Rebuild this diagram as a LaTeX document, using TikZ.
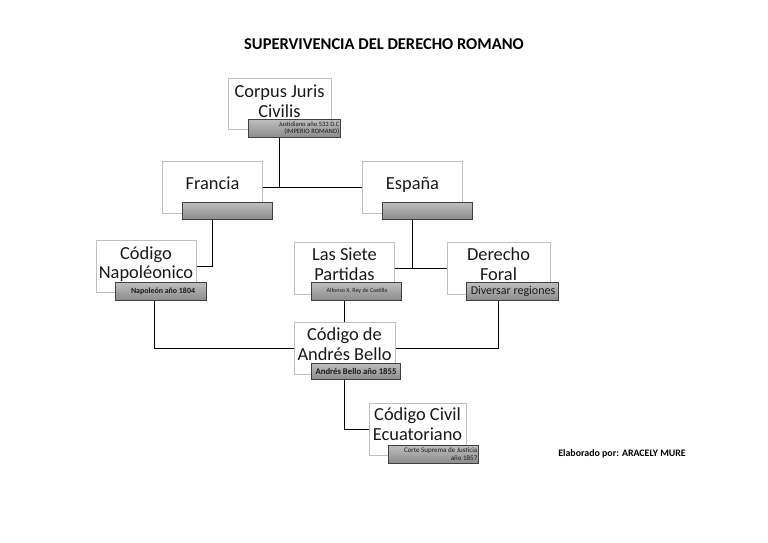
\documentclass[tikz,border=0pt]{standalone}
\usepackage{fontspec}
\setmainfont{Carlito}
\usetikzlibrary{backgrounds,calc}
\begin{document}
\begin{tikzpicture}[x=1pt,y=-1pt,
  wbox/.style={draw=black!25,line width=0.9pt,fill=white,inner sep=0pt,
    minimum width=100pt,minimum height=52pt},
  wtxt/.style={font=\fontsize{18.4}{19.5}\selectfont,align=center,inner sep=0pt,text=black!90},
  glab/.style={draw=black!75,line width=1pt,top color=black!25,bottom color=black!45,
    inner sep=0pt,minimum width=91pt,minimum height=17pt},
  ltxt/.style={inner sep=1.5pt,text=black!90},
  conn/.style={draw=black,line width=0.9pt}]
\useasboundingbox (0,0) rectangle (768,543);
% title
\node[font=\bfseries\fontsize{16.5}{18}\selectfont] (title) at (384,44) {SUPERVIVENCIA DEL DERECHO ROMANO};
\node[font=\bfseries\fontsize{9.9}{11}\selectfont] (autor) at (622,454) {Elaborado por: ARACELY MURE};
% white boxes
\node[wbox,minimum width=103pt,minimum height=51pt] (cj) at (279.5,104) {};
\node[wbox] (fr) at (212.5,187) {};
\node[wbox] (es) at (412.5,187) {};
\node[wbox] (cn) at (146,266) {};
\node[wbox] (sp) at (344.5,268) {};
\node[wbox,minimum width=103pt] (df) at (498.5,268) {};
\node[wbox,minimum width=101pt] (ab) at (344.5,348) {};
\node[wbox,minimum width=97pt] (cc) at (417.5,429) {};
% texts
\node[wtxt] (cjt) at (279.5,101) {Corpus Juris\\Civilis};
\node[wtxt] (frt) at (212.5,185) {Francia\vphantom{p}};
\node[wtxt] (est) at (412.5,185) {España};
\node[wtxt] (cnt) at (146,264) {Código\\Napoléonico};
\node[wtxt] (spt) at (344.5,264) {Las Siete\\Partidas};
\node[wtxt] (dft) at (498.5,264) {Derecho\\Foral};
\node[wtxt] (abt) at (344.5,344) {Código de\\Andrés Bello};
\node[wtxt] (cct) at (417.5,424) {Código Civil\\Ecuatoriano};
% connectors
\begin{scope}[on background layer]
\draw[conn] (cj.center) -- (cj.center |- fr.east);
\draw[conn] (fr.east) -- (es.west);
\draw[conn] (fr.center) -- (fr.center |- cn.east) -- (cn.east);
\draw[conn] (es.center) -- (es.center |- sp.east);
\draw[conn] (sp.east) -- (df.west);
\coordinate (cnd) at (154,291);
\draw[conn] (cnd) -- (cnd |- ab.west) -- (ab.west);
\draw[conn] (df.center) -- (df.center |- ab.east) -- (ab.east);
\draw[conn] (sp.center) -- (ab.north);
\draw[conn] (ab.center) -- (ab.center |- cc.west) -- (cc.west);
\end{scope}
% gray labels
\node[glab,minimum width=92pt,minimum height=18pt] (cjl) at (294,128) {};
\node[ltxt,inner sep=1pt,font=\fontsize{6.6}{7.4}\selectfont,align=right,anchor=east] (cjlt) at (cjl.east) {Justidiano año 533 D.C\\(IMPERIO ROMANO)};
\node[glab,minimum width=90pt] (frl) at (227,210.5) {};
\node[glab,minimum width=90pt] (esl) at (427,210.5) {};
\node[glab,minimum width=91pt,minimum height=18pt] (cnl) at (160.5,291) {};
\node[ltxt,font=\bfseries\fontsize{7.9}{8}\selectfont] (cnlt) at (163,291) {Napoleón año 1804};
\node[glab,minimum width=90pt,minimum height=18pt] (spl) at (356,291) {};
\node[ltxt,font=\fontsize{6}{7}\selectfont] (splt) at (357,291) {Alfonso X, Rey de Castilla};
\node[glab,minimum width=92pt,minimum height=18pt] (dfl) at (512,291) {};
\node[ltxt,font=\fontsize{12}{13}\selectfont] (dflt) at (513,291) {Diversar regiones};
\node[glab,minimum width=89pt,minimum height=16pt] (abl) at (355.5,371) {};
\node[ltxt,font=\bfseries\fontsize{8.7}{9}\selectfont] (ablt) at (356,371) {Andrés Bello año 1855};
\node[glab,minimum width=90pt,minimum height=18pt] (ccl) at (433,454) {};
\node[ltxt,inner sep=1pt,font=\fontsize{7}{7.6}\selectfont,align=right,anchor=east] (cclt) at (ccl.east) {Corte Suprema de Justicia\\año 1857};
\end{tikzpicture}
\end{document}
